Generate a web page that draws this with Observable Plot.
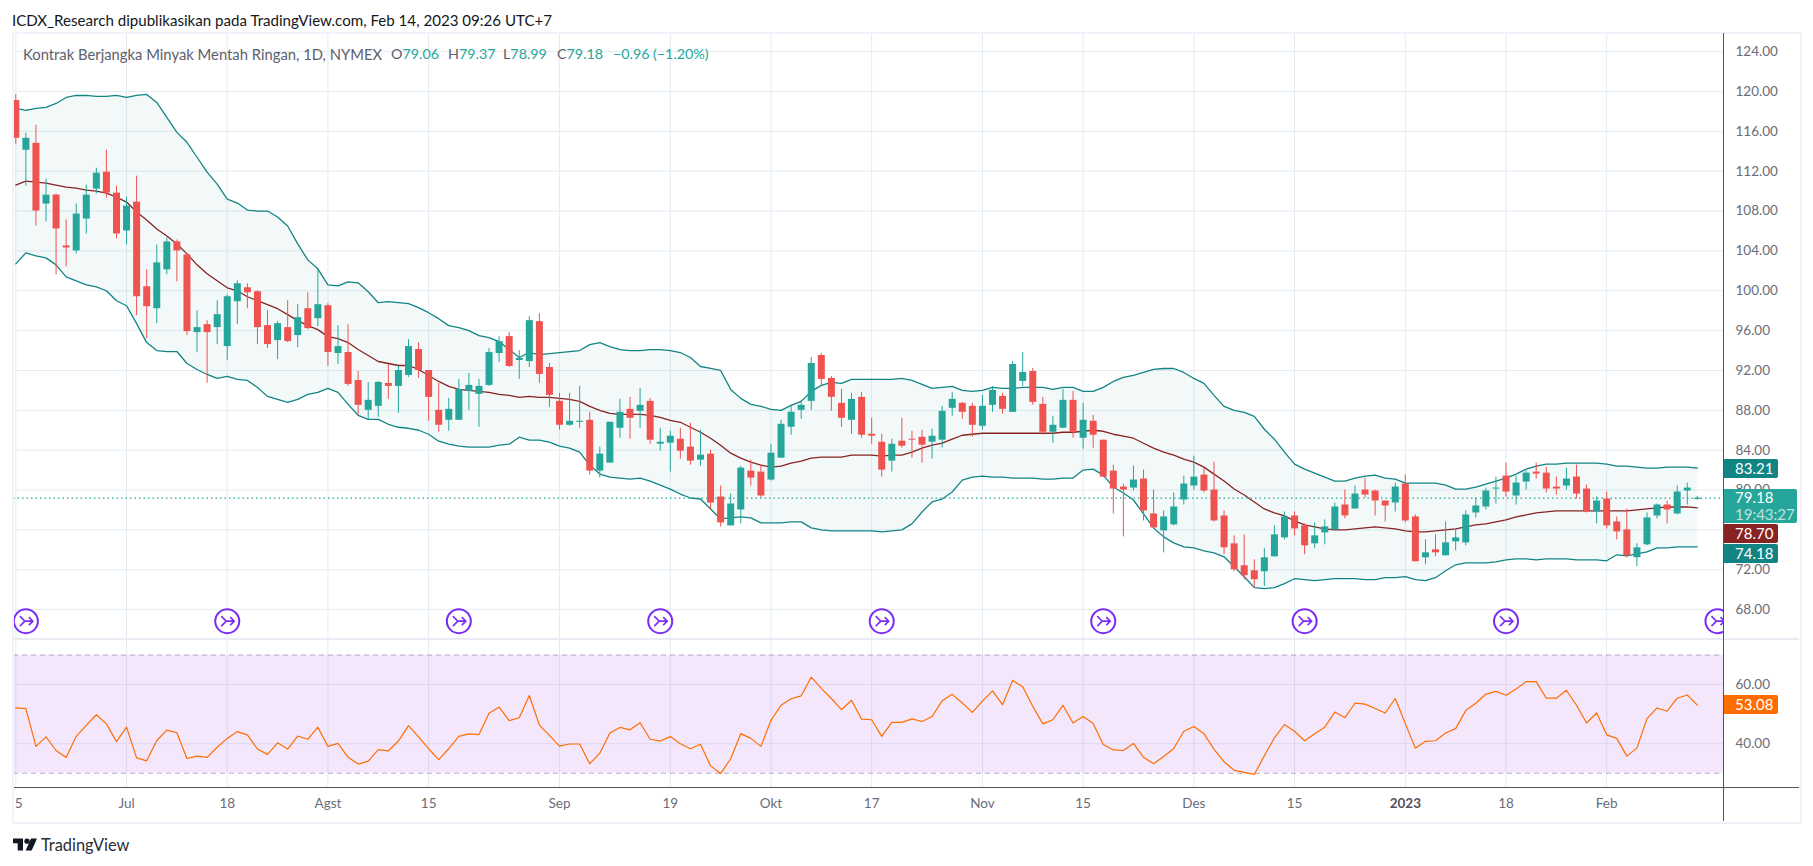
<!DOCTYPE html>
<html lang="id">
<head>
<meta charset="utf-8">
<script src="https://cdn.jsdelivr.net/npm/d3@7"></script>
<script src="https://cdn.jsdelivr.net/npm/@observablehq/plot@0.6"></script>
<style>
html,body{margin:0;padding:0;background:#fff;}
#page{position:relative;width:1813px;height:866px;overflow:hidden;font-family:Lato,sans-serif;}
#page svg{position:absolute;left:0;display:block;background:transparent;}
.abs{position:absolute;white-space:nowrap;}
#title{left:12px;top:11px;font-size:15.1px;line-height:18px;color:#131722;}
#frame{left:12px;top:32px;width:1786px;height:788px;border:2px solid #f0f3fa;box-sizing:content-box;}
#legend{left:23px;top:45px;font-size:14.8px;line-height:18px;color:#5d606b;}
#legend span{font-size:14.3px;}
#legend b{font-weight:400;color:#26a69a;}
#legend span{position:absolute;top:0;}
#sep{left:14px;top:638px;width:1785px;height:2px;background:#e9ecf2;}
#base{left:14px;top:787px;width:1785px;height:1px;background:#50535e;}
#vline{left:1723px;top:33px;width:1px;height:788px;background:#50535e;}
.badge{left:1724px;color:#fff;font-size:15px;line-height:19px;height:19px;padding-left:11px;width:43px;border-radius:0 2px 2px 0;}
#logo{left:13px;top:838px;width:24px;height:13px;}
#brand{left:41px;top:835px;font-size:16.4px;line-height:20px;color:#2a2e39;}
</style>
</head>
<body>
<div id="page">
  <div id="plots"></div>
  <div id="frame" class="abs"></div>
  <div id="sep" class="abs"></div>
  <div id="base" class="abs"></div>
  <div id="vline" class="abs"></div>
  <div id="title" class="abs">ICDX_Research dipublikasikan pada TradingView.com, Feb 14, 2023 09:26 UTC+7</div>
  <div id="legend" class="abs" style="width:700px;height:18px">Kontrak Berjangka Minyak Mentah Ringan, 1D, NYMEX
    <span style="left:368px">O<b>79.06</b></span>
    <span style="left:425px">H<b>79.37</b></span>
    <span style="left:480px">L<b>78.99</b></span>
    <span style="left:534px">C<b>79.18</b></span>
    <span style="left:590px"><b>−0.96</b></span>
    <span style="left:630px"><b>(−1.20%)</b></span>
  </div>
  <div class="abs badge" style="top:459px;background:#138484">83.21</div>
  <div class="abs badge" style="top:489px;height:34px;width:62px;background:#26a69a;line-height:17px">79.18<br><span style="color:#ffffffb0">19:43:27</span></div>
  <div class="abs badge" style="top:524px;background:#872323">78.70</div>
  <div class="abs badge" style="top:544px;background:#138484">74.18</div>
  <div class="abs badge" style="top:695px;background:#ff6d00">53.08</div>
  <svg id="logo" class="abs" style="top:838px;left:13px" viewBox="0 0 36 18" width="24" height="13">
    <path d="M0 0H15V18H7V7H0Z" fill="#131722"/><circle cx="21" cy="4" r="4" fill="#131722"/><path d="M27 0H36L28 18H19Z" fill="#131722"/>
  </svg>
  <div id="brand" class="abs">TradingView</div>
</div>
<script>
const open_ = [119.1,114.1,114.8,108.7,109.6,104.5,104.0,107.2,110.2,111.9,
109.8,106.0,108.9,100.4,98.2,102.1,104.9,103.6,95.8,96.6,
96.3,94.4,98.9,100.3,99.9,96.5,95.0,96.3,95.5,98.2,
97.2,98.5,93.7,93.8,91.0,88.0,88.4,90.7,90.4,91.5,
94.1,92.0,88.0,87.0,87.0,89.9,89.6,90.5,93.7,95.4,
93.0,92.9,96.9,92.3,88.9,86.5,86.8,87.0,81.9,82.7,
86.2,88.1,87.9,88.9,84.6,84.7,85.1,84.3,83.0,83.6,
79.3,76.4,78.0,81.9,81.8,81.0,83.2,86.3,88.0,88.9,
93.5,91.2,88.7,87.0,89.3,85.6,84.8,82.9,84.9,85.1,
85.3,84.8,85.0,88.2,88.7,88.4,86.4,88.5,89.4,87.8,
90.9,91.9,88.6,85.8,86.2,89.0,85.2,86.9,85.0,81.9,
80.3,80.2,81.1,77.6,75.9,76.5,79.0,80.4,81.5,80.0,
77.4,74.6,72.4,71.9,71.8,73.3,75.2,77.4,76.4,74.6,
75.7,76.0,78.5,78.1,80.0,79.9,78.9,78.7,80.6,77.3,
73.2,74.0,73.4,74.8,74.7,77.7,78.3,80.1,81.4,79.4,
80.8,81.8,81.7,80.3,80.4,81.3,80.1,77.8,79.1,76.8,
76.0,73.2,74.5,77.4,78.5,77.6,79.9,79.06];
const high = [119.7,115.8,116.6,111.2,109.7,107.1,108.7,110.6,112.3,114.1,
110.5,109.4,111.5,102.1,104.6,105.3,105.1,103.7,98.0,97.0,
99.0,99.6,101.0,100.7,100.0,98.0,96.9,99.0,98.6,99.8,
102.1,98.7,96.5,96.6,91.9,90.8,90.9,92.6,92.4,95.1,
94.8,92.0,90.7,89.2,91.1,91.7,91.1,94.2,95.4,95.8,
94.0,97.4,97.7,92.7,89.7,89.7,90.4,87.8,84.3,86.8,
89.1,89.3,90.2,89.2,86.2,85.9,86.2,86.7,86.0,84.0,
80.4,79.6,82.4,83.0,82.5,84.6,87.0,88.4,89.0,93.3,
93.7,91.4,90.1,89.7,89.8,87.2,85.6,85.1,87.2,85.9,
86.0,86.1,88.4,89.8,88.8,88.7,89.5,90.4,89.7,92.9,
93.8,92.2,89.3,87.4,90.1,89.9,88.7,87.5,85.0,82.5,
80.6,82.4,82.0,80.0,77.9,79.7,81.4,83.4,82.2,82.8,
77.9,75.4,75.5,73.0,74.1,76.4,77.8,77.8,76.6,76.7,
77.0,78.7,80.0,80.4,81.2,80.0,78.9,80.7,81.5,77.5,
75.0,75.5,76.8,76.0,77.9,79.2,80.2,81.3,82.7,81.4,
81.9,82.7,82.3,81.3,82.2,82.5,80.5,79.3,79.8,77.3,
78.1,74.6,77.7,78.6,78.9,80.4,80.7,79.37];
const low = [114.7,110.5,106.5,106.9,101.6,102.4,103.7,105.7,109.7,109.3,
105.2,104.6,97.5,95.2,96.7,101.6,100.9,95.5,93.8,90.7,
94.6,93.0,96.6,98.2,94.6,94.2,93.1,94.8,94.3,96.1,
96.4,92.4,92.6,90.4,87.5,87.0,87.3,89.1,87.7,91.3,
91.2,86.9,85.8,85.9,87.0,88.0,86.3,90.4,92.8,92.3,
91.1,92.3,90.7,88.3,86.0,86.4,86.2,81.5,81.2,82.7,
85.2,85.1,86.2,84.6,83.9,81.8,83.1,82.5,82.4,78.0,
76.3,76.4,76.6,80.4,79.2,80.9,83.2,85.5,87.1,88.0,
90.5,87.9,86.3,85.6,85.2,84.6,81.3,81.8,84.2,83.2,
82.7,83.1,84.2,87.4,87.1,85.3,86.0,87.8,87.6,87.8,
90.4,88.5,85.5,84.7,86.2,85.2,84.1,84.2,81.3,77.6,
75.3,79.9,76.9,76.2,73.7,76.4,78.5,80.0,79.7,76.8,
73.5,71.8,71.0,70.2,70.3,73.3,75.0,75.4,73.5,74.1,
74.5,75.9,77.1,78.1,79.2,77.4,76.8,77.8,76.7,72.8,
72.5,73.3,73.4,73.9,74.4,77.2,78.0,78.6,79.3,78.5,
80.0,81.1,79.7,79.5,80.0,79.1,77.7,76.6,76.1,75.0,
73.2,72.3,74.4,77.1,76.6,77.5,78.5,78.99];
const close_ = [115.3,115.3,108.0,109.6,106.2,104.3,107.7,109.6,111.8,109.8,
105.7,108.5,99.4,98.4,102.8,104.9,104.0,95.9,96.3,95.8,
97.6,99.4,100.7,99.8,96.3,94.6,96.7,94.9,97.3,96.2,
98.6,93.8,94.4,90.6,88.5,89.0,90.8,90.4,92.0,94.4,
92.0,89.3,86.5,88.1,90.1,90.5,90.4,93.8,94.9,92.4,
93.2,97.0,91.6,89.5,86.5,86.9,86.9,81.9,83.6,86.8,
87.8,87.2,88.5,85.0,84.8,85.4,83.9,82.9,83.5,78.7,
76.7,78.6,82.2,81.2,79.4,83.7,86.6,87.8,88.5,92.7,
91.1,89.3,87.2,89.1,85.5,85.4,82.0,84.6,84.4,85.0,
84.5,85.4,87.9,89.1,87.8,86.5,88.4,90.0,88.1,92.6,
91.8,88.8,85.8,86.5,89.0,85.8,87.0,85.5,81.3,80.1,
80.0,81.0,77.9,76.2,77.3,78.3,80.6,81.3,79.9,76.9,
74.2,72.0,71.4,71.0,73.2,75.5,77.3,76.1,74.4,75.4,
76.3,78.3,77.4,79.6,79.5,78.9,78.4,80.3,76.9,72.8,
73.7,73.7,74.7,75.2,77.5,78.4,79.9,80.2,79.8,80.7,
81.7,81.6,80.1,80.1,81.1,79.6,77.8,78.9,76.4,75.8,
73.4,74.2,77.2,78.5,78.0,79.8,80.2,79.18];
const bbUpper = [118.3,118.1,118.3,118.4,118.8,119.4,119.6,119.6,119.5,119.5,
119.6,119.4,119.6,119.7,118.9,117.4,115.9,114.9,113.4,111.9,
110.7,109.2,108.8,108.1,108.0,108.0,107.4,106.5,104.7,103.1,
102.2,100.6,100.5,100.9,100.8,99.9,98.8,98.9,98.8,98.7,
98.3,97.8,97.2,96.5,96.3,96.0,95.5,95.3,94.9,94.1,
93.3,93.8,93.6,93.7,93.8,93.9,94.0,94.6,94.8,94.4,
94.1,94.0,94.0,94.1,94.1,94.0,93.8,93.3,92.4,92.2,
92.0,90.1,89.2,88.6,88.4,88.1,88.0,88.5,88.9,89.9,
90.5,90.8,90.7,91.1,91.1,91.1,91.1,91.1,91.2,91.0,
90.6,90.2,90.3,90.4,90.0,89.9,90.0,90.3,90.2,90.2,
90.3,90.3,90.3,90.1,90.3,90.3,89.9,89.9,90.3,90.9,
91.3,91.5,91.8,92.1,92.2,92.2,91.8,91.2,90.7,89.5,
88.4,88.0,87.8,87.4,86.1,85.1,83.8,82.6,82.1,81.7,
81.3,80.9,80.9,81.2,81.4,81.5,81.2,81.1,80.7,80.7,
80.7,80.7,80.5,80.1,80.1,80.3,80.6,80.9,81.2,81.6,
82.1,82.4,82.6,82.6,82.7,82.7,82.7,82.7,82.6,82.4,
82.4,82.3,82.2,82.2,82.3,82.3,82.3,82.2];
const bbBasis = [110.6,111.0,110.9,110.8,110.6,110.4,110.3,110.1,110.0,109.8,
109.4,108.9,107.9,107.1,106.2,105.5,104.7,103.7,102.6,101.7,
101.0,100.3,100.0,99.4,99.0,98.6,98.2,97.6,97.0,96.5,
96.1,95.4,95.2,94.8,94.1,93.5,92.9,92.7,92.5,92.5,
92.1,91.5,90.9,90.4,90.1,90.0,89.9,89.8,89.6,89.5,
89.3,89.4,89.3,89.3,89.2,89.1,88.9,88.4,88.0,87.7,
87.6,87.6,87.6,87.5,87.3,87.0,86.8,86.3,85.8,85.2,
84.5,83.7,83.2,82.8,82.5,82.3,82.4,82.7,82.9,83.2,
83.3,83.3,83.3,83.5,83.5,83.5,83.4,83.5,83.5,83.8,
84.2,84.5,84.7,85.1,85.5,85.6,85.7,85.7,85.7,85.7,
85.7,85.7,85.7,85.7,85.8,85.8,85.9,86.0,85.9,85.6,
85.4,85.2,84.7,84.2,83.8,83.5,83.1,82.8,82.3,81.6,
80.9,80.1,79.5,78.8,78.1,77.7,77.4,76.9,76.5,76.3,
76.1,76.0,76.0,76.1,76.2,76.3,76.2,76.1,75.9,75.8,
75.8,75.9,76.0,76.1,76.3,76.5,76.6,76.8,77.0,77.3,
77.5,77.7,77.8,77.9,77.9,77.9,77.9,77.9,77.9,77.9,
77.9,78.0,78.1,78.2,78.3,78.3,78.3,78.2];
const bbLower = [102.7,103.8,103.5,103.3,102.6,101.4,101.0,100.6,100.4,100.0,
99.0,98.5,96.7,94.8,94.0,93.9,93.9,92.7,92.1,91.6,
91.2,91.4,91.1,91.0,90.3,89.4,89.1,88.8,89.1,89.6,
89.8,90.2,89.8,88.6,87.5,87.1,87.1,86.6,86.3,86.2,
86.0,85.6,84.9,84.6,84.4,84.3,84.3,84.3,84.5,84.6,
85.3,85.0,85.0,84.8,84.4,84.2,83.8,82.5,81.6,81.3,
81.2,81.1,81.2,80.9,80.5,80.1,79.6,79.2,79.1,78.1,
77.1,77.2,77.3,77.2,76.7,76.7,76.7,76.8,76.8,76.2,
76.0,75.9,75.9,75.9,75.9,75.9,75.8,75.9,76.0,76.6,
77.8,78.8,79.1,79.8,81.0,81.3,81.4,81.3,81.3,81.2,
81.2,81.2,81.1,81.1,81.2,81.2,82.0,82.1,81.5,80.3,
79.7,79.0,77.6,76.2,75.3,74.7,74.3,74.2,73.9,73.7,
73.3,72.3,71.3,70.2,70.1,70.2,70.6,71.1,71.0,70.9,
71.0,71.1,71.1,71.1,71.0,71.0,71.2,71.2,71.3,71.0,
70.9,71.2,71.9,72.5,72.7,72.7,72.7,72.8,73.0,73.1,
73.1,73.0,73.1,73.1,73.1,73.0,73.0,73.0,72.9,73.5,
73.4,73.6,73.8,74.2,74.2,74.3,74.3,74.3];
const rsi = [52.1,51.9,39.1,42.3,37.7,35.3,42.5,46.2,49.8,46.7,
40.7,45.6,35.2,34.2,41.1,44.6,43.7,35.0,35.8,35.4,
38.8,41.8,44.1,43.0,38.2,36.4,40.3,38.2,42.6,41.5,
45.6,39.1,40.1,35.4,33.1,34.1,38.0,37.6,40.9,46.1,
42.3,38.3,34.6,38.3,42.5,43.3,43.1,50.3,52.4,47.8,
48.8,56.3,46.3,42.8,39.2,39.9,39.9,33.2,36.8,43.6,
45.5,44.7,47.1,41.5,40.9,42.4,40.0,38.3,39.8,32.5,
29.9,34.9,43.4,41.8,39.1,47.9,53.0,55.2,56.2,62.5,
58.7,55.3,51.5,54.7,48.3,48.1,42.5,47.2,47.2,48.4,
47.5,49.2,54.5,56.7,53.8,50.6,54.4,57.9,53.2,61.4,
59.3,52.7,46.7,48.1,53.0,47.0,49.2,46.8,39.7,37.9,
37.7,40.1,35.4,33.2,35.7,38.4,44.2,45.8,43.4,38.1,
33.9,31.0,30.3,29.6,35.9,42.0,46.5,44.2,41.0,43.4,
45.6,50.7,48.8,53.7,53.4,51.9,50.4,55.3,46.8,38.5,
40.8,41.0,43.6,45.1,51.2,53.7,56.8,57.7,56.4,58.5,
61.0,61.0,55.4,55.4,58.1,53.0,47.0,50.4,43.0,41.8,
35.8,38.5,48.5,52.1,51.0,55.4,56.5,53.08];

const timeTicks = [11,21,31,41,54,65,75,85,96,106,117,127,148,158];
const timeLabels = ["Jul","18","Agst","15","Sep","19","Okt","17","Nov","15","Des","15","18","Feb"];
const yearTick = 138, yearLabel = "2023";
const firstTick = 0, firstLabel = "5";
const priceTicks = [68,72,76,80,84,88,92,96,100,104,108,112,116,120,124];
const rsiTicks = [40,60];
const rsiBand = [30,70];
const lastPrice = 79.18;
const ideaBars = [1,21,44,64,86,108,128,148,169];
const ideaPrice = 66.84;

const GREEN = "#26a69a", RED = "#ef5350", GRID = "#e3ecf3", AXIS = "#6a6d78";
const bars = d3.range(close_.length);
const col = i => close_[i] >= open_[i] ? GREEN : RED;
const allTicks = [0, ...timeTicks, yearTick];
const label = d => timeLabels[timeTicks.indexOf(d)];
const xDomain = [-0.228, 169.6];
const W = 1813, ML = 13, MR = 90;

const ideaSymbol = {draw(c){
  c.moveTo(-6,-5); c.lineTo(-1,0); c.lineTo(-6,5);
  c.moveTo(-1,0); c.lineTo(7,0);
  c.moveTo(3,-4); c.lineTo(7,0); c.lineTo(3,4);
}};

const price = Plot.plot({
  width: W, height: 638, marginLeft: ML, marginRight: MR, marginTop: 33, marginBottom: 0,
  style: {background:"transparent", fontFamily:"Lato,sans-serif", fontSize:"13.5px", top:"0px"},
  x: {domain: xDomain, axis: null},
  y: {domain: [65.1, 125.82], axis: null},
  marks: [
    Plot.gridX(allTicks, {stroke: GRID, strokeOpacity: 1}),
    Plot.gridY(priceTicks, {stroke: GRID, strokeOpacity: 1}),
    Plot.axisY(priceTicks, {anchor:"right", tickSize:0, tickPadding:12, tickFormat: d => d.toFixed(2), fill: AXIS, label:null, textAnchor:"start"}),
    Plot.areaY(bars, {x: i => i, y1: i => bbLower[i], y2: i => bbUpper[i], fill:"#138484", fillOpacity:0.05}),
    Plot.line(bars, {x: i => i, y: i => bbUpper[i], stroke:"#138484", strokeWidth:1.3}),
    Plot.line(bars, {x: i => i, y: i => bbLower[i], stroke:"#138484", strokeWidth:1.3}),
    Plot.line(bars, {x: i => i, y: i => bbBasis[i], stroke:"#872323", strokeWidth:1.3}),
    Plot.ruleY([lastPrice], {stroke: GREEN, strokeDasharray:"1.5 3", strokeWidth:1.2}),
    Plot.ruleX(bars, {x: i => i, y1: i => low[i], y2: i => high[i], stroke: col, strokeWidth:1}),
    Plot.ruleX(bars, {x: i => i, y1: i => open_[i], y2: i => close_[i], stroke: col, strokeWidth:7}),
    Plot.dot(ideaBars, {x: d => d, y: () => ideaPrice, r:12, stroke:"#7a2cf5", strokeWidth:2, fill:"#fff", clip:true}),
    Plot.dot(ideaBars, {x: d => d, y: () => ideaPrice, symbol: () => ideaSymbol, stroke:"#7a2cf5", strokeWidth:1.6, fill:"none", clip:true})
  ]
});

const osc = Plot.plot({
  width: W, height: 184, marginLeft: ML, marginRight: MR, marginTop: 0, marginBottom: 34.7,
  style: {background:"transparent", fontFamily:"Lato,sans-serif", fontSize:"13.5px", top:"638px"},
  x: {domain: xDomain, axis: null},
  y: {domain: [25.08, 75.6], axis: null},
  marks: [
    Plot.gridX(allTicks, {stroke: GRID, strokeOpacity: 1}),
    Plot.gridY(rsiTicks, {stroke: GRID, strokeOpacity: 1}),
    Plot.rectY([0], {x1: xDomain[0], x2: xDomain[1], y1: rsiBand[0], y2: rsiBand[1], fill:"#9c27e8", fillOpacity:0.11}),
    Plot.ruleY(rsiBand, {stroke:"#b9a8c8", strokeDasharray:"5 4", strokeWidth:1}),
    Plot.line(bars, {x: i => i, y: i => rsi[i], stroke:"#ff6d00", strokeWidth:1.2}),
    Plot.axisY(rsiTicks, {anchor:"right", tickSize:0, tickPadding:12, tickFormat: d => d.toFixed(2), fill: AXIS, label:null, textAnchor:"start"}),
    Plot.axisX(timeTicks, {anchor:"bottom", tickSize:0, tickPadding:11, tickFormat: label, fill: AXIS, label:null}),
    Plot.axisX([yearTick], {anchor:"bottom", tickSize:0, tickPadding:11, tickFormat: () => yearLabel, fill:"#50535e", fontWeight:"bold", label:null}),
    Plot.axisX([firstTick], {anchor:"bottom", tickSize:0, tickPadding:11, tickFormat: () => firstLabel, fill: AXIS, dx:3, label:null})
  ]
});

document.getElementById("plots").append(price, osc);
</script>
</body>
</html>
